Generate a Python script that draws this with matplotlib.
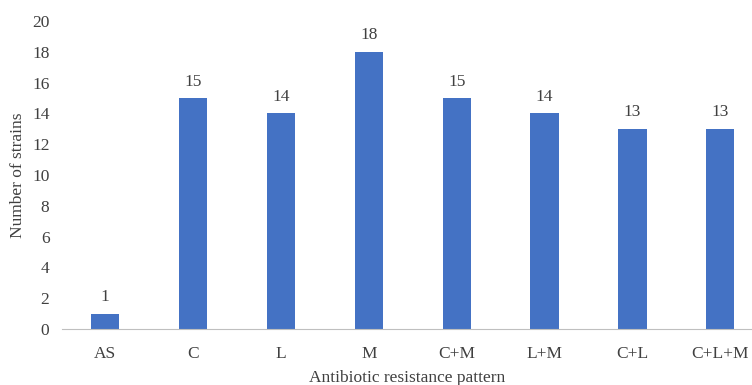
import matplotlib.pyplot as plt

patterns = ["AS", "C", "L", "M", "C+M", "L+M", "C+L", "C+L+M"]
strains = [1, 15, 14, 18, 15, 14, 13, 13]

plt.rcParams["font.family"] = ["Liberation Serif", "DejaVu Serif"]

fig = plt.figure(figsize=(7.52, 3.85), dpi=100)
ax = fig.add_axes([62 / 752, 56 / 385, 690 / 752, 308 / 385])

x = range(len(patterns))
bars = ax.bar(x, strains, width=0.32, color="#4472C4", zorder=2)
for b, v in zip(bars, strains):
    ax.annotate(str(v), (b.get_x() + b.get_width() / 2, v), xytext=(0, 6),
                textcoords="offset points", ha="center", va="bottom",
                fontsize=12.5, color="#404040")

ax.set_xlim(-0.49, 7.36)
ax.set_ylim(0, 20)
ax.set_yticks(range(0, 21, 2))
ax.set_xticks(list(x))
ax.set_xticklabels(patterns)
ax.tick_params(axis="both", length=0, labelsize=12.5, colors="#404040")
ax.tick_params(axis="x", pad=12)
ax.tick_params(axis="y", pad=9)
for s in ("top", "right", "left"):
    ax.spines[s].set_visible(False)
ax.spines["bottom"].set_color("#BFBFBF")
ax.set_xlabel("Antibiotic resistance pattern", fontsize=12.5, color="#404040", labelpad=6)
ax.set_ylabel("Number of strains", fontsize=12.5, color="#404040", labelpad=4)

fig.savefig("out.png", dpi=100)
